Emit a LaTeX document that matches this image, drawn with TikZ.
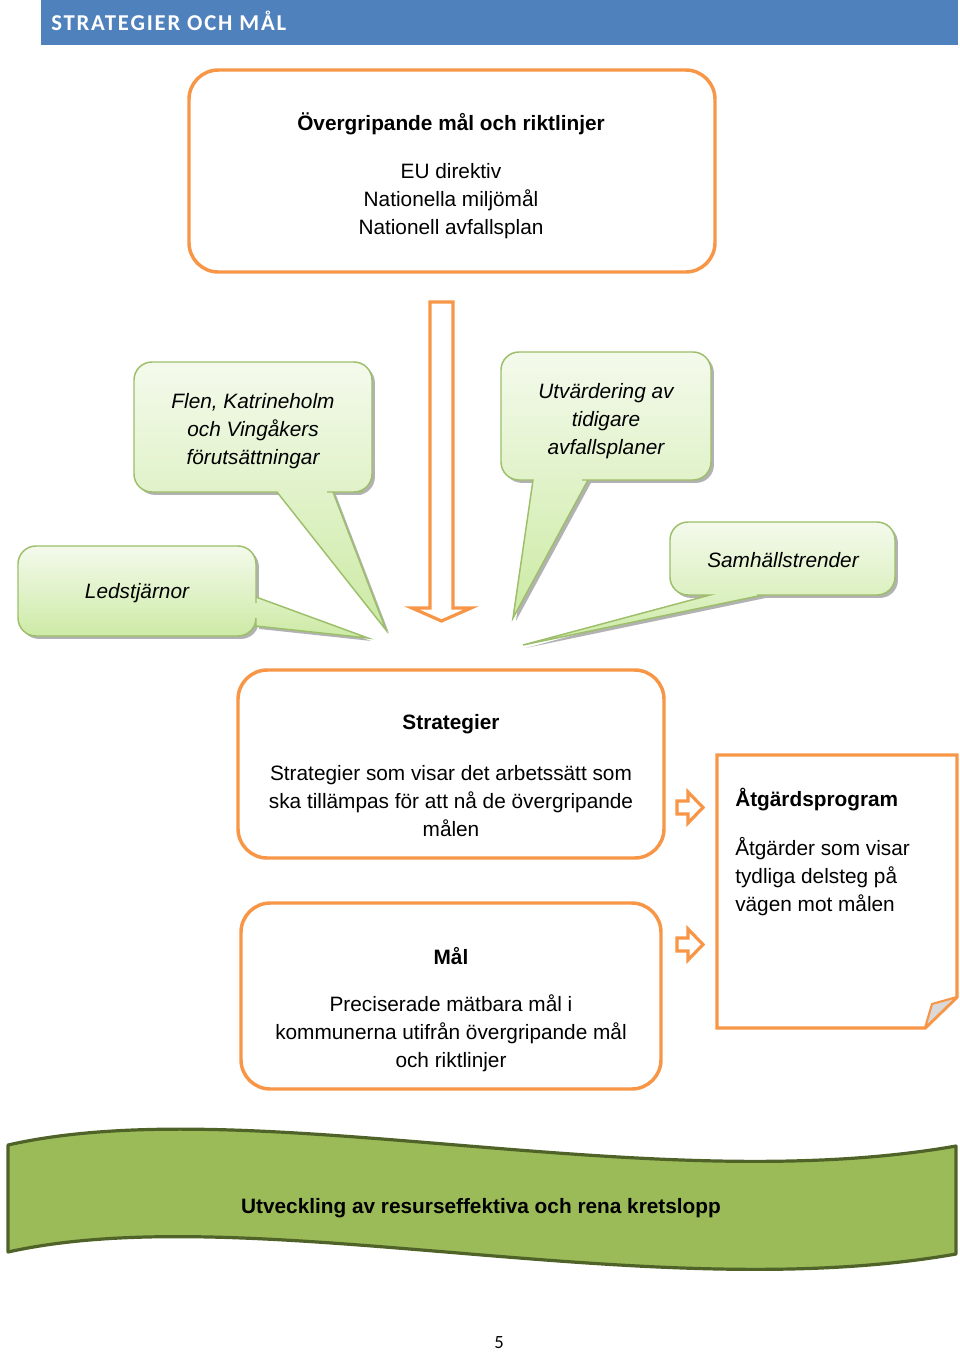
\documentclass[tikz,border=0pt]{standalone}
\usepackage{fontspec}
\setmainfont{Liberation Sans}
\newfontfamily\hdfont[LetterSpace=8]{Carlito}
\newfontfamily\pgfont{Carlito}
\definecolor{hdblue}{HTML}{4F81BD}
\definecolor{ora}{HTML}{F79646}
\definecolor{cTop}{HTML}{F4FAEC}
\definecolor{cBot}{HTML}{CCEAA4}
\definecolor{cBord}{HTML}{9DBE6A}
\definecolor{banFill}{HTML}{9BBB59}
\definecolor{banBord}{HTML}{4F6228}
\definecolor{foldgray}{HTML}{D9D9D9}
\tikzset{
  obox/.style={draw=ora, line width=2.6pt, fill=white, rounded corners=22pt},
  oarrow/.style={draw=ora, line width=2.4pt, fill=white, line join=miter},
  callout/.style={draw=cBord, line width=1.1pt, top color=cTop, bottom color=cBot,
    preaction={fill=black!30, transform canvas={xshift=2.2pt,yshift=-2.2pt}}},
  txt/.style={font=\fontsize{15.6}{21}\selectfont, align=center, inner sep=0pt, yshift=-1.5pt},
  itxt/.style={txt, font=\fontsize{15.6}{21}\selectfont\itshape},
  btxt/.style={txt, font=\fontsize{15.6}{21}\selectfont\bfseries},
}
\begin{document}
\begin{tikzpicture}[x=0.75pt,y=-0.75pt]
\useasboundingbox (0,0) rectangle (960,1354);

% header
\fill[hdblue] (41,0) rectangle (958,45);
\node[anchor=west, inner sep=0pt, text=white, font=\hdfont\fontsize{17}{20}\selectfont\bfseries] (hd) at (51,21) {STRATEGIER OCH MÅL};

% top box
\draw[obox] (189,70) rectangle (715,272);
\node[btxt] (toptitle) at (451,122) {Övergripande mål och riktlinjer};
\node[txt] (toptext) at (451,199) {EU direktiv\\Nationella miljömål\\Nationell avfallsplan};

% down arrow
\draw[oarrow] (430,302) -- (453,302) -- (453,608) -- (471,608) -- (441.5,621) -- (412,608) -- (430,608) -- cycle;

% callout Flen
\path[callout] (250,362) [rounded corners=13.5pt] -- (372,362) -- (372,492) -- (345,492) [sharp corners] -- (333,492) -- (386,630) -- (277,492) -- (265,492) [rounded corners=13.5pt] -- (134,492) -- (134,362) -- cycle;
\node[itxt] (flen) at (253,429) {Flen, Katrineholm\\och Vingåkers\\förutsättningar};

% callout Utvardering
\path[callout] (600,352) [rounded corners=13.5pt] -- (711,352) -- (711,480) -- (600,480) [sharp corners] -- (588,480) -- (513,618) -- (533,480) -- (521,480) [rounded corners=13.5pt] -- (501,480) -- (501,352) -- cycle;
\node[itxt] (utv) at (606,419) {Utvärdering av\\tidigare\\avfallsplaner};

% callout Ledstjarnor
\path[callout] (137,546) [rounded corners=13.5pt] -- (256,546) -- (256,585) [sharp corners] -- (256,597) -- (368,638) -- (256,626) -- (256,628) [rounded corners=13.5pt] -- (256,636) -- (18,636) -- (18,546) -- cycle;
\node[itxt] (led) at (137,591) {Ledstjärnor};

% callout Samhallstrender
\path[callout] (780,522) [rounded corners=13.5pt] -- (895,522) -- (895,595) -- (775,595) [sharp corners] -- (763,595) -- (523,645) -- (710,595) -- (700,595) [rounded corners=13.5pt] -- (670,595) -- (670,522) -- cycle;
\node[itxt] (samh) at (783,558) {Samhällstrender};

% Strategier box
\draw[obox] (238,670) rectangle (664,858);
\node[btxt] (strtitle) at (451,722) {Strategier};
\node[txt] (strtext) at (451,799) {Strategier som visar det arbetssätt som\\ska tillämpas för att nå de övergripande\\målen};

% Mal box
\draw[obox] (241,903) rectangle (661,1089);
\node[btxt] (maltitle) at (451,954) {Mål};
\node[txt] (maltext) at (451,1031) {Preciserade mätbara mål i\\kommunerna utifrån övergripande mål\\och riktlinjer};

% small arrows
\draw[oarrow] (677,801) -- (688,801) -- (688,792) -- (703,807.5) -- (688,823) -- (688,814) -- (677,814) -- cycle;
\draw[oarrow] (677,938) -- (688,938) -- (688,929) -- (703,944.5) -- (688,960) -- (688,951) -- (677,951) -- cycle;

% Atgardsprogram document
\draw[draw=ora, line width=2.6pt, fill=white, line join=miter] (717,755) -- (957,755) -- (957,997) -- (925,1028) -- (717,1028) -- cycle;
\draw[draw=ora, line width=1.6pt, fill=foldgray, line join=round] (957,997) -- (932,1004) -- (925,1028) -- cycle;
\node[btxt, anchor=west] (atgtitle) at (735,798) {Åtgärdsprogram};
\node[txt, align=left, anchor=west] (atgtext) at (735,875) {Åtgärder som visar\\tydliga delsteg på\\vägen mot målen};

% banner
\draw[fill=banFill, draw=banBord, line width=2.4pt, line join=round]
  (8,1145) .. controls (250,1090) and (650,1200) .. (956,1146)
  -- (956,1254) .. controls (650,1308) and (250,1198) .. (8,1252) -- cycle;
\node[btxt] (ban) at (481,1206) {Utveckling av resurseffektiva och rena kretslopp};

% page number
\node[inner sep=0pt, font=\pgfont\fontsize{14}{16}\selectfont] (pg) at (499,1343) {5};
\end{tikzpicture}
\end{document}
